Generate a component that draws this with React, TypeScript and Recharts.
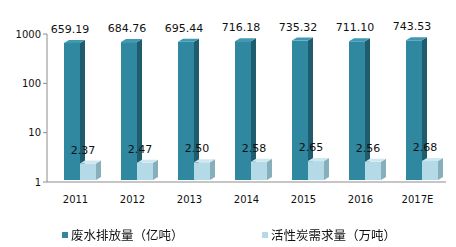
import { BarChart, Bar, XAxis, YAxis, LabelList } from 'recharts'

const YEARS = ['2011', '2012', '2013', '2014', '2015', '2016', '2017E']
const WASTEWATER = [659.19, 684.76, 695.44, 716.18, 735.32, 711.1, 743.53]
const CARBON = [2.37, 2.47, 2.5, 2.58, 2.65, 2.56, 2.68]
const Y_TICKS = [1, 10, 100, 1000]

const SERIES_NAMES = ['废水排放量（亿吨）', '活性炭需求量（万吨）']

const DARK = { front: '#2f87a0', side: '#1f5c6d', top: '#3f99b2' }
const LIGHT = { front: '#b3dae6', side: '#86aebb', top: '#cfe8ef' }

const data = YEARS.map((year, i) => ({
  year,
  water: WASTEWATER[i],
  carbon: CARBON[i],
}))

const SHIFT = 4
const DEPTH = 5
const RISE = 3

function makeBar3D(colors: { front: string; side: string; top: string }) {
  return (props: any) => {
    const { x, y, width, height } = props
    if (!height || height <= 0) return <g />
    const x0 = x + SHIFT
    const x1 = x0 + width
    const yb = y + height - 2
    return (
      <g>
        <rect x={x0} y={y} width={width} height={yb - y} fill={colors.front} />
        <polygon
          points={`${x1},${y} ${x1 + DEPTH},${y - RISE} ${x1 + DEPTH},${yb - RISE} ${x1},${yb}`}
          fill={colors.side}
        />
        <polygon
          points={`${x0},${y} ${x0 + DEPTH},${y - RISE} ${x1 + DEPTH},${y - RISE} ${x1},${y}`}
          fill={colors.top}
        />
      </g>
    )
  }
}

const renderLabel = (dx: number) => (props: any) => {
  const { x, y, width, value } = props
  const v = Number(value).toFixed(2)
  return (
    <text
      x={x + width / 2 + SHIFT + dx}
      y={y - RISE - 7}
      textAnchor="middle"
      fontSize={11}
      fontFamily="DejaVu Sans, Verdana, sans-serif"
      fill="#111"
    >
      {v}
    </text>
  )
}

function LegendBox() {
  const items = [
    { name: SERIES_NAMES[0], color: DARK.front },
    { name: SERIES_NAMES[1], color: LIGHT.front },
  ]
  return (
    <div
      style={{
        position: 'absolute',
        left: 62,
        top: 226,
        display: 'flex',
        fontFamily: 'Noto Sans CJK SC, sans-serif',
        fontSize: 12.5,
        lineHeight: '18px',
        color: '#111',
      }}
    >
      {items.map((it) => (
        <div key={it.name} style={{ display: 'flex', alignItems: 'center', width: 200 }}>
          <span style={{ display: 'inline-block', width: 6, height: 6, background: it.color, marginRight: 3 }} />
          <span>{it.name}</span>
        </div>
      ))}
    </div>
  )
}

export default function App() {
  return (
    <div style={{ position: 'fixed', left: 0, top: 0, width: 456, height: 247, background: '#fff' }}>
      <BarChart
        width={456}
        height={247}
        data={data}
        margin={{ top: 34, right: 10, left: 0, bottom: 35 }}
        barGap={0}
        barSize={16}
      >
        <XAxis
          dataKey="year"
          height={30}
          tickLine={false}
          axisLine={{ stroke: '#8c8c8c' }}
          tick={{ fontSize: 10, fontFamily: 'DejaVu Sans, Verdana, sans-serif', fill: '#111' }}
          tickMargin={8}
        />
        <YAxis
          scale="log"
          domain={[1, 1000]}
          ticks={Y_TICKS}
          allowDataOverflow
          width={47}
          tickSize={4}
          axisLine={{ stroke: '#8c8c8c' }}
          tickLine={{ stroke: '#8c8c8c' }}
          tick={{ fontSize: 10, fontFamily: 'DejaVu Sans, Verdana, sans-serif', fill: '#111' }}
        />
        <Bar dataKey="water" name={SERIES_NAMES[0]} fill={DARK.front} shape={makeBar3D(DARK)} isAnimationActive={false}>
          <LabelList dataKey="water" content={renderLabel(-2)} />
        </Bar>
        <Bar dataKey="carbon" name={SERIES_NAMES[1]} fill={LIGHT.front} shape={makeBar3D(LIGHT)} isAnimationActive={false}>
          <LabelList dataKey="carbon" content={renderLabel(-5)} />
        </Bar>
      </BarChart>
      <LegendBox />
    </div>
  )
}
